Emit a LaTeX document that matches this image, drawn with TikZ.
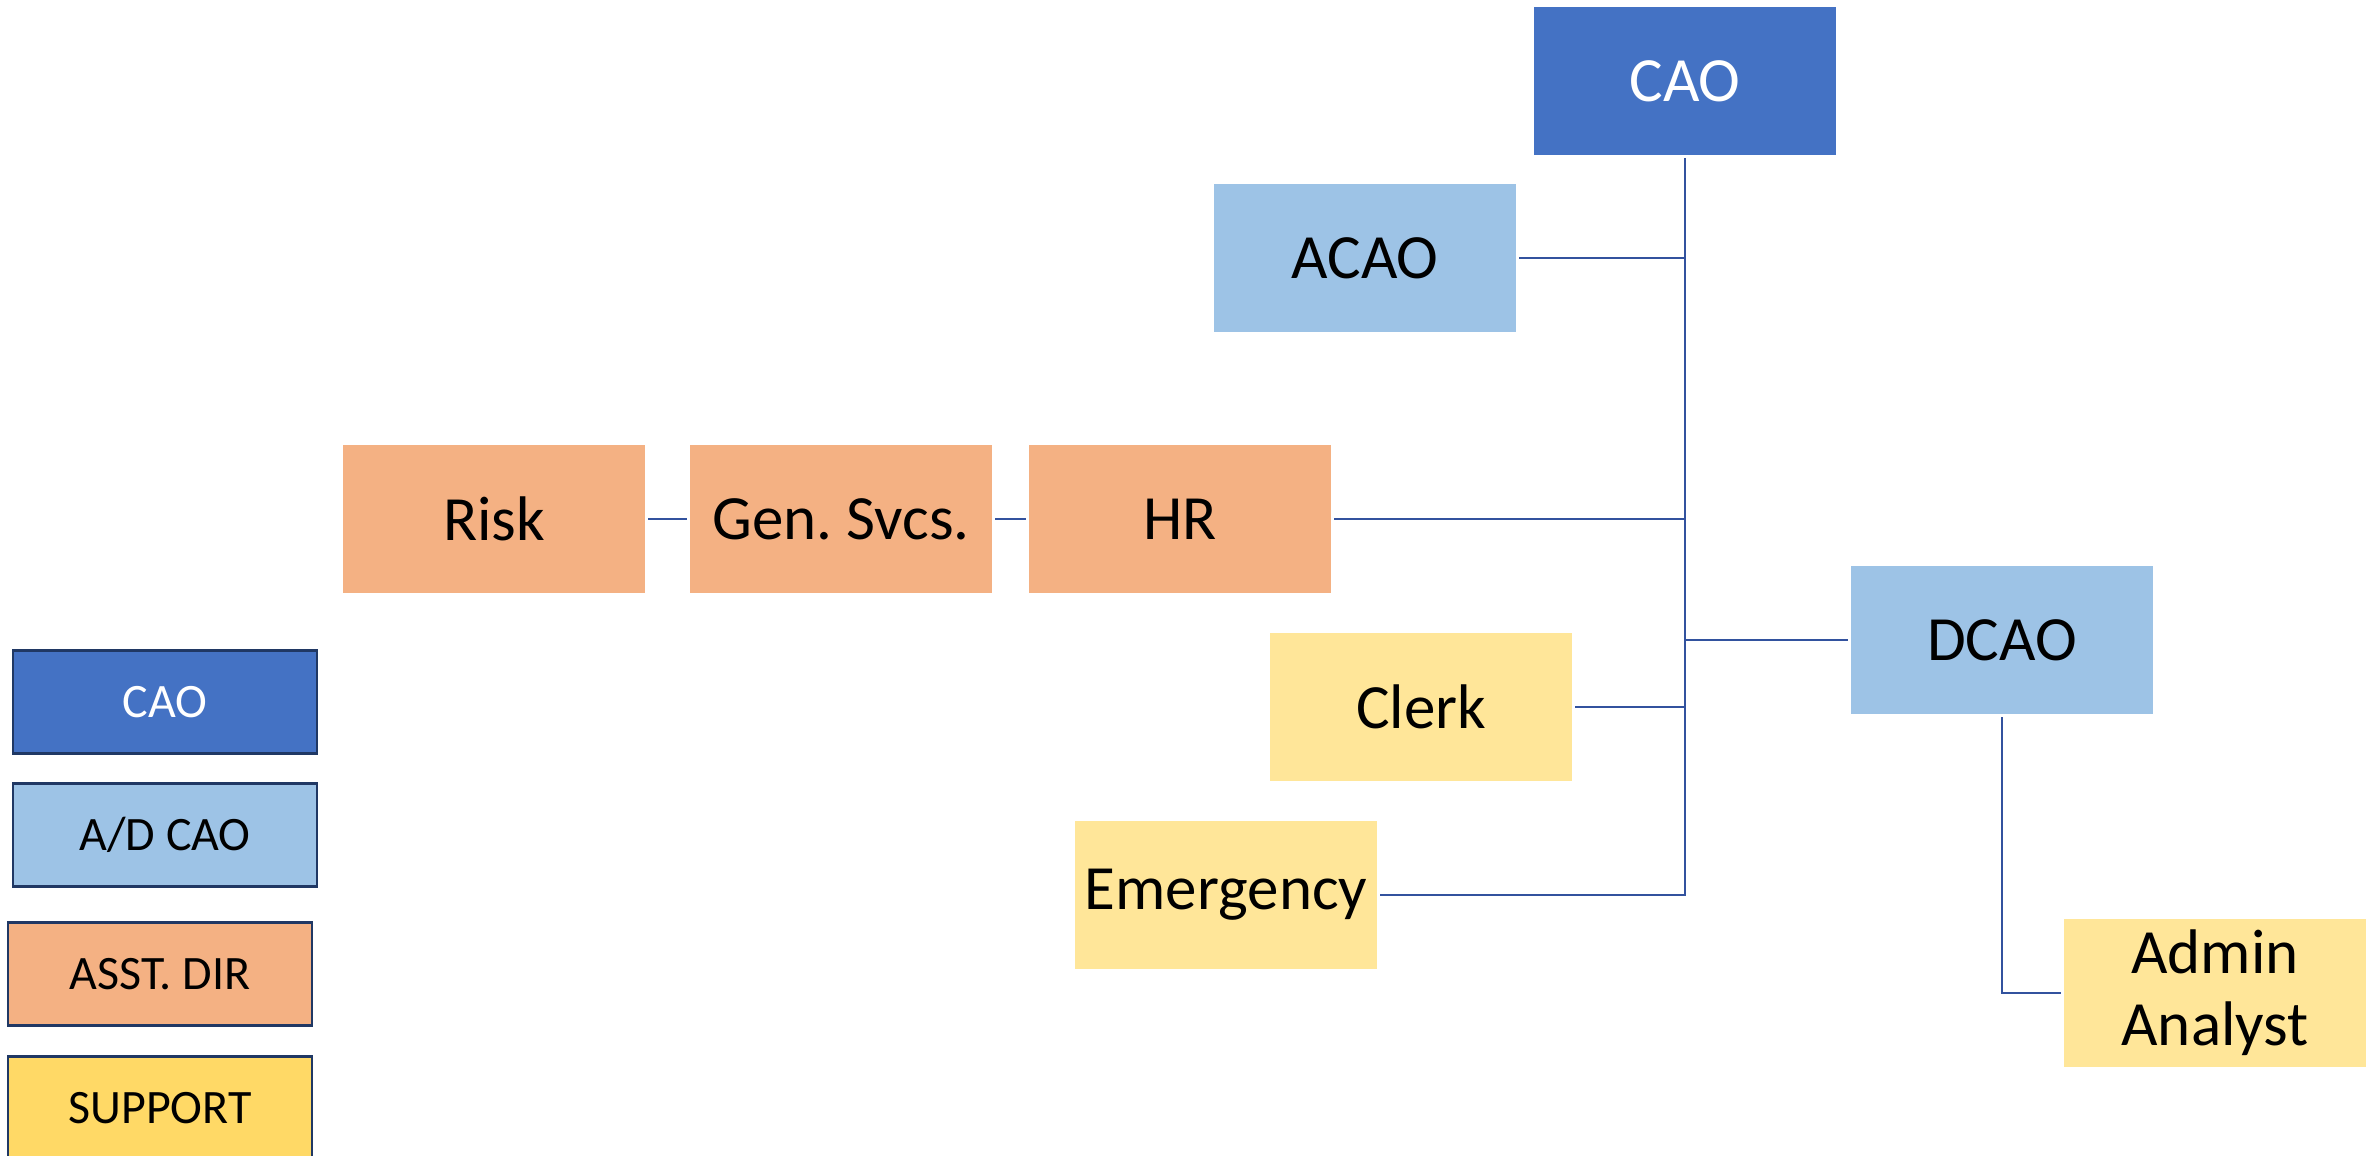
\documentclass[tikz,border=0pt]{standalone}
\usepackage{fontspec}
\setmainfont{Carlito}
\usepackage{tikz}
\usetikzlibrary{positioning,calc}
\definecolor{caoblue}{HTML}{4472C4}
\definecolor{lightblue}{HTML}{9DC3E6}
\definecolor{asstorange}{HTML}{F4B183}
\definecolor{supyellow}{HTML}{FFE699}
\definecolor{legyellow}{HTML}{FFD966}
\definecolor{legborder}{HTML}{203864}
\definecolor{linkblue}{RGB}{50,82,158}
\frenchspacing
\begin{document}
\begin{tikzpicture}[x=1pt,y=-1pt,
  every node/.style={font=\fontsize{63}{72}\selectfont,align=center,inner sep=0pt,outer sep=3pt},
  box/.style={minimum width=302pt,minimum height=148pt},
  legend/.style={draw=legborder,line width=2.5pt,minimum width=304pt,minimum height=103pt,outer sep=0pt,font=\fontsize{48}{56}\selectfont},
  link/.style={draw=linkblue,line width=2.5pt}]
\useasboundingbox (0,0) rectangle (2379,1156);
\clip (0,0) rectangle (2379,1156);
% org boxes
\node[box,fill=caoblue,text=white] (cao) at (1685,81) {CAO};
\node[box,fill=lightblue] (acao) at (1365,258) {ACAO};
\node[box,fill=asstorange] (risk) at (494,519) {Risk};
\node[box,fill=asstorange] (gensvcs) at (841,519) {Gen. Svcs.};
\node[box,fill=asstorange] (hr) at (1180,519) {HR};
\node[box,fill=supyellow] (clerk) at (1421,707) {Clerk};
\node[box,fill=supyellow] (emerg) at (1226,895) {Emergency};
\node[box,fill=lightblue] (dcao) at (2002,640) {DCAO};
\node[box,fill=supyellow] (admin) at (2215,993) {Admin\\Analyst};
% legend
\node[legend,fill=caoblue,text=white] (legcao) at (165,702) {CAO};
\node[legend,fill=lightblue] (legacao) at (165,835) {A/D CAO};
\node[legend,fill=asstorange] (legasst) at (160,974) {ASST. DIR};
\node[legend,fill=legyellow] (legsup) at (160,1108) {SUPPORT};
% connectors
\draw[link] (cao.south) -- (cao.south |- emerg.east) -- (emerg.east);
\draw[link] (acao.east) -- (acao.east -| cao.south);
\draw[link] (hr.east) -- (hr.east -| cao.south);
\draw[link] (clerk.east) -- (clerk.east -| cao.south);
\draw[link] (cao.south |- dcao.west) -- (dcao.west);
\draw[link] (risk) -- (gensvcs);
\draw[link] (gensvcs) -- (hr);
\draw[link] (dcao.south) |- (admin.west);
\end{tikzpicture}
\end{document}
